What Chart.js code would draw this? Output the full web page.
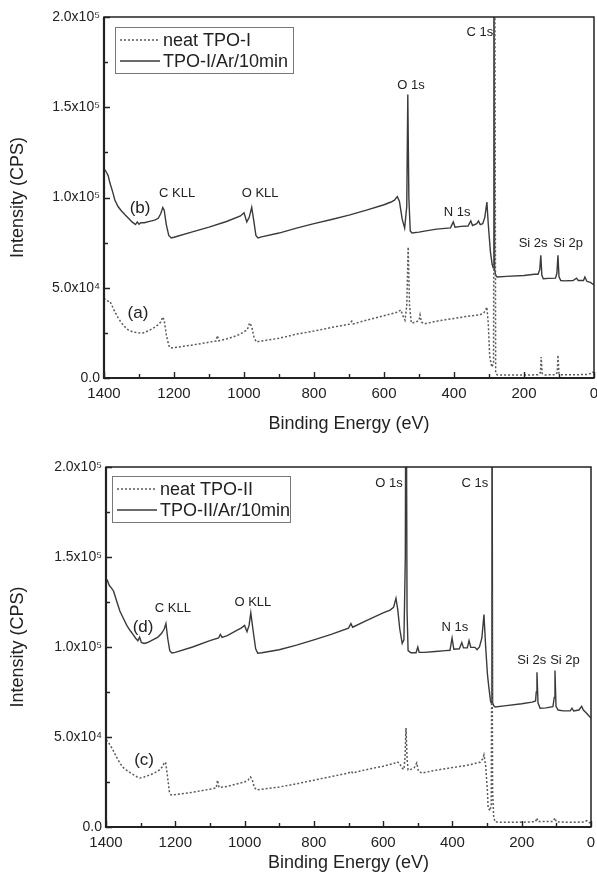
<!DOCTYPE html>
<html>
<head>
<meta charset="utf-8">
<script src="https://cdn.jsdelivr.net/npm/chart.js@4"></script>
<style>
  html, body { margin: 0; padding: 0; background: #fff; }
  .panel { position: absolute; left: 0; width: 597px; height: 441px; }
</style>
</head>
<body>
<div class="panel" style="top:0"><canvas id="surveyI" width="597" height="441"></canvas></div>
<div class="panel" style="top:441px"><canvas id="surveyII" width="597" height="441"></canvas></div>
<script>
// XPS survey spectra, binding energy (eV) vs intensity (CPS), [eV, CPS] pairs.

// (a) neat TPO-I
const neatTPO1 = [
  [1400,44300],[1393,43000],[1388,42500],[1383,42500],[1378,40500],[1370,37000],[1360,33500],
  [1350,30500],[1340,28300],[1330,26500],[1317,25500],[1300,25000],[1289,24900],[1275,26000],
  [1260,27500],[1245,29500],[1238,31000],[1232,33800],[1228,32000],[1222,24000],[1215,18000],
  [1210,16600],[1200,16800],[1150,18200],[1100,19800],[1080,20500],[1076,23500],[1072,20600],
  [1050,21600],[1020,23500],[1000,25500],[990,27000],[984,30500],[978,28500],[972,23000],
  [965,20000],[950,20500],[900,22000],[850,24300],[800,26000],[750,28000],[700,29800],
  [692,31500],[688,30000],[650,32000],[600,34500],[560,36600],[552,37700],[545,34000],
  [540,32000],[535,40000],[531,72600],[527,40000],[522,30500],[510,30800],[500,32000],
  [497,35000],[493,31000],[485,30000],[450,31500],[400,33000],[350,34500],[326,35000],
  [315,36000],[310,37500],[306,39300],[302,30000],[298,12000],[292,6000],[287,8000],
  [284,300000],[281,3000],[277,1800],[270,1600],[200,1600],[160,1800],[153,3000],[151,11600],
  [148,2500],[140,1700],[110,1800],[105,3000],[103,12700],[100,2500],[95,1800],[50,1800],
  [20,2000],[10,2500],[5,3300],[0,3000]
];

// (b) TPO-I after 10 min Ar plasma
const plasmaTPO1 = [
  [1400,116000],[1393,114000],[1388,112000],[1383,108000],[1375,103000],[1369,98600],
  [1360,95000],[1350,92500],[1340,90500],[1330,88500],[1320,86500],[1310,85000],[1305,86500],
  [1300,85200],[1295,86000],[1285,86000],[1270,86800],[1255,87500],[1245,88500],[1238,91000],
  [1232,94500],[1228,93000],[1222,85000],[1215,79000],[1208,77600],[1200,78000],[1150,80800],
  [1100,83600],[1050,86700],[1010,89800],[1000,91500],[992,86500],[985,89000],[978,94500],
  [972,87000],[966,79000],[960,77600],[950,78200],[900,80300],[850,83000],[800,85500],
  [750,87800],[700,90200],[650,93000],[600,96000],[580,97500],[570,98500],[562,100500],
  [556,98000],[548,88000],[541,83000],[535,95000],[532,157000],[529,100000],[525,81500],
  [520,80300],[500,80800],[480,81500],[450,82500],[410,83200],[402,86500],[397,83500],
  [380,84000],[360,84200],[352,87000],[347,84500],[335,85500],[330,87000],[325,85000],
  [318,85500],[312,89000],[306,97500],[302,85000],[296,70000],[291,63000],[288,61000],
  [286,300000],[284,60000],[281,57000],[277,56000],[250,56300],[200,56800],[170,57500],
  [160,57500],[155,60000],[152,68000],[149,57000],[145,55000],[130,55200],[110,55300],
  [106,58000],[103,68000],[100,56000],[95,54000],[85,53800],[60,54000],[50,55300],[45,54000],
  [30,54000],[26,56000],[20,53500],[10,53000],[0,51500]
];

// (c) neat TPO-II
const neatTPO2 = [
  [1400,48300],[1395,47500],[1390,46000],[1385,44500],[1380,42800],[1370,39000],[1360,35500],
  [1350,33000],[1340,31500],[1330,30200],[1320,29000],[1310,27800],[1302,27200],[1290,27800],
  [1275,28800],[1260,30000],[1245,31800],[1237,33500],[1232,35500],[1228,36000],[1223,29000],
  [1217,19500],[1212,17800],[1200,18000],[1150,19300],[1100,21000],[1082,21700],[1078,26000],
  [1074,22000],[1050,22500],[1020,24000],[1000,25000],[990,26000],[983,27800],[978,26500],
  [972,22000],[965,20600],[950,21000],[900,22200],[850,24000],[800,26000],[750,28000],
  [700,30000],[692,31000],[688,30000],[650,31800],[600,33800],[570,35200],[560,36200],
  [553,35500],[546,32800],[540,32000],[537,38000],[534,55000],[531,38000],[528,31700],
  [520,32000],[510,33000],[503,35600],[498,31000],[488,30000],[450,31500],[400,33000],
  [350,34500],[330,35600],[320,36000],[312,38000],[309,40000],[304,34000],[299,20000],
  [297,11000],[292,9000],[288,12000],[286,130500],[284,20000],[281,6000],[277,2800],
  [250,2600],[200,2600],[160,3000],[156,5000],[153,3000],[110,3000],[104,5000],[100,2800],
  [50,2600],[20,2800],[12,3500],[5,2500],[0,2200]
];

// (d) TPO-II after 10 min Ar plasma
const plasmaTPO2 = [
  [1400,136000],[1396,137000],[1390,134000],[1385,133000],[1378,131000],[1370,126000],
  [1360,120000],[1350,116000],[1340,112000],[1330,109000],[1322,107000],[1315,105000],
  [1308,103500],[1303,105500],[1298,102500],[1290,102000],[1280,102500],[1265,104000],
  [1250,105500],[1240,107500],[1232,110000],[1227,113000],[1222,105000],[1216,98000],
  [1210,96700],[1200,97000],[1150,100000],[1100,103500],[1075,105000],[1070,107000],
  [1065,105300],[1050,106300],[1020,109500],[1010,110500],[1000,112000],[993,108500],
  [987,112000],[982,119000],[976,110000],[968,99000],[962,96500],[950,96800],[900,98500],
  [850,101000],[800,104000],[750,107000],[700,110500],[693,113000],[688,111000],[650,114500],
  [600,119000],[580,120500],[570,122000],[563,127000],[558,121000],[552,110000],[545,102000],
  [540,104000],[536,150000],[534,300000],[531,120000],[528,98000],[520,96800],[505,96800],
  [500,100000],[496,97000],[480,97000],[450,97500],[420,98000],[407,98200],[401,105000],
  [396,98800],[380,99000],[373,102500],[368,99500],[357,99500],[352,103500],[347,99800],
  [335,99800],[329,98500],[322,100000],[315,105000],[309,118000],[304,100000],[299,85000],
  [295,77800],[290,70000],[288,69000],[286,300000],[284,69000],[281,67500],[277,66700],
  [250,67300],[200,68500],[170,69400],[160,70000],[158,75000],[156,86000],[153,69000],
  [147,66000],[130,66200],[110,66800],[106,72000],[104,87000],[101,67000],[95,65000],
  [80,64500],[60,64500],[55,66000],[50,64500],[35,65000],[27,67000],[22,65000],[12,63000],
  [5,61500],[0,60500]
];

// Axis ticks
const energyTicks = [1400, 1200, 1000, 800, 600, 400, 200, 0];
const intensityTickLabels = ['0.0', '5.0x10\u2074', '1.0x10\u2075', '1.5x10\u2075', '2.0x10\u2075'];

// Peak assignments [text, eV, CPS]
const peaksI = [
  ['C 1s', 326, 191700], ['O 1s', 523, 162000], ['N 1s', 391, 92000],
  ['Si 2s', 174, 74800], ['Si 2p', 74, 74800], ['C KLL', 1191, 102000], ['O KLL', 954, 102000]
];
const curvesI = [['(b)', 1297, 94200], ['(a)', 1303, 36000]];
const peaksII = [
  ['O 1s', 583, 191000], ['C 1s', 335, 191000], ['N 1s', 393, 110600],
  ['Si 2s', 171, 92800], ['Si 2p', 75, 92800], ['C KLL', 1207, 121700], ['O KLL', 976, 125000]
];
const curvesII = [['(d)', 1293, 111000], ['(c)', 1290, 37200]];

const FONT = '"Liberation Sans", Arial, Helvetica, sans-serif';
const INK = '#222';

function toPoints(pairs) { return pairs.map(p => ({ x: p[0], y: p[1] })); }

// Frame, inward ticks, peak labels and an inset legend
const framePlugin = {
  id: 'xpsFrame',
  afterDatasetsDraw(chart, args, opts) {
    const { ctx, chartArea: a, scales: { x, y } } = chart;
    ctx.save();
    ctx.strokeStyle = INK;
    ctx.lineWidth = 1.4;
    ctx.beginPath();
    for (let v = 0; v <= 1400; v += 100) {
      const px = Math.round(x.getPixelForValue(v)) + 0.5;
      const len = v % 200 === 0 ? 6 : 4;
      ctx.moveTo(px, a.bottom); ctx.lineTo(px, a.bottom - len);
    }
    for (let v = 0; v <= 200000; v += 25000) {
      const py = Math.round(y.getPixelForValue(v)) + 0.5;
      const len = v % 50000 === 0 ? 6 : 4;
      ctx.moveTo(a.left, py); ctx.lineTo(a.left + len, py);
    }
    ctx.stroke();

    ctx.lineWidth = 1.5;
    ctx.strokeRect(a.left, a.top, a.right - a.left, a.bottom - a.top);
    ctx.lineWidth = 2.2;
    ctx.beginPath();
    ctx.moveTo(a.left, a.top); ctx.lineTo(a.left, a.bottom); ctx.lineTo(a.right, a.bottom);
    ctx.stroke();

    ctx.fillStyle = INK;
    ctx.textAlign = 'center';
    ctx.textBaseline = 'middle';
    ctx.font = '13px ' + FONT;
    opts.peaks.forEach(([t, e, c]) => ctx.fillText(t, x.getPixelForValue(e), y.getPixelForValue(c)));
    ctx.font = '17px ' + FONT;
    opts.curves.forEach(([t, e, c]) => ctx.fillText(t, x.getPixelForValue(e), y.getPixelForValue(c)));

    const L = opts.legend;
    ctx.lineWidth = 1;
    ctx.strokeStyle = '#777';
    ctx.strokeRect(L.left + 0.5, L.top + 0.5, L.width, L.height);
    ctx.font = '18px ' + FONT;
    ctx.textAlign = 'left';
    chart.data.datasets.forEach((ds, i) => {
      const cy = L.top + L.rowTop + i * L.rowGap;
      ctx.beginPath();
      ctx.strokeStyle = ds.borderColor;
      ctx.lineWidth = ds.borderWidth;
      ctx.setLineDash(ds.borderDash || []);
      ctx.moveTo(L.left + 5, cy); ctx.lineTo(L.left + 45, cy);
      ctx.stroke();
      ctx.setLineDash([]);
      ctx.fillStyle = INK;
      ctx.fillText(ds.label, L.left + 48, cy + 1);
    });
    ctx.restore();
  }
};

function surveyChart(id, neat, plasma, names, cfg) {
  return new Chart(document.getElementById(id), {
    type: 'line',
    data: {
      datasets: [
        { label: names[0], data: toPoints(neat), borderColor: '#5a5a5a', borderWidth: 1.5,
          borderDash: [2, 2], pointRadius: 0, tension: 0, fill: false },
        { label: names[1], data: toPoints(plasma), borderColor: '#3a3a3a', borderWidth: 1.4,
          pointRadius: 0, tension: 0, fill: false }
      ]
    },
    options: {
      responsive: false,
      animation: false,
      devicePixelRatio: 1,
      layout: { padding: { left: 0, top: cfg.padTop, right: cfg.padRight, bottom: 0 } },
      plugins: {
        legend: { display: false },
        tooltip: { enabled: false },
        xpsFrame: { peaks: cfg.peaks, curves: cfg.curves, legend: cfg.legend }
      },
      scales: {
        x: {
          type: 'linear', reverse: true, min: 0, max: 1400,
          afterBuildTicks: s => { s.ticks = energyTicks.map(v => ({ value: v })); },
          afterFit: s => { s.height = cfg.xHeight; s.paddingLeft = 0; s.paddingRight = 0; },
          grid: { display: false, drawTicks: false }, border: { display: false },
          ticks: { color: INK, font: { family: FONT, size: 15 }, padding: 7, maxRotation: 0,
                   callback: v => String(v) },
          title: { display: true, text: 'Binding Energy (eV)', color: INK,
                   font: { family: FONT, size: 18 }, padding: { top: 0, bottom: cfg.titlePad } }
        },
        y: {
          type: 'linear', min: 0, max: 200000,
          afterBuildTicks: s => { s.ticks = intensityTickLabels.map((t, i) => ({ value: i * 50000 })); },
          afterFit: s => { s.width = cfg.yWidth; s.paddingTop = 0; s.paddingBottom = 0; },
          grid: { display: false, drawTicks: false }, border: { display: false },
          ticks: { color: INK, font: { family: FONT, size: 14 }, padding: 4,
                   callback: v => intensityTickLabels[Math.round(v / 50000)] },
          title: { display: true, text: 'Intensity (CPS)', color: INK,
                   font: { family: FONT, size: 18 }, padding: { top: 7, bottom: 0 } }
        }
      }
    },
    plugins: [framePlugin]
  });
}

surveyChart('surveyI', neatTPO1, plasmaTPO1, ['neat TPO-I', 'TPO-I/Ar/10min'], {
  padTop: 17, padRight: 3, xHeight: 63, yWidth: 104, titlePad: 6,
  peaks: peaksI, curves: curvesI,
  legend: { left: 115, top: 27, width: 178, height: 46, rowTop: 13, rowGap: 21 }
});

surveyChart('surveyII', neatTPO2, plasmaTPO2, ['neat TPO-II', 'TPO-II/Ar/10min'], {
  padTop: 26, padRight: 6, xHeight: 55, yWidth: 106, titlePad: 8,
  peaks: peaksII, curves: curvesII,
  legend: { left: 112, top: 35, width: 178, height: 46, rowTop: 13, rowGap: 21 }
});
</script>
</body>
</html>
